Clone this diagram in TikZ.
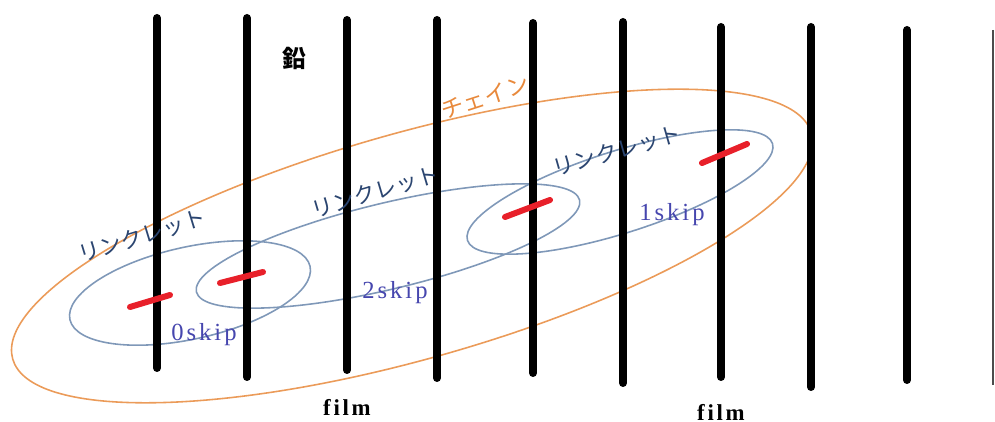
\documentclass[tikz,border=0pt]{standalone}
\usepackage{fontspec}
\usepackage{xcolor}
\usepackage{tikz}
\newfontfamily\jpfont{Noto Sans CJK JP}
\newfontfamily\skipfont[LetterSpace=12]{Liberation Serif}
\definecolor{chainorange}{HTML}{E8893C}
\definecolor{linkblue}{HTML}{7F98B8}
\definecolor{linktext}{HTML}{2B4570}
\definecolor{skiptext}{HTML}{4646AE}
\definecolor{hitred}{HTML}{E8202A}

\begin{document}
\begin{tikzpicture}[
  x=0.02cm, y=-0.02cm,
  filmline/.style={line width=0.16cm, line cap=round, black},
  hit/.style={line width=0.12cm, line cap=round, hitred},
  linklet/.style={draw=linkblue, line width=0.9pt},
  chain/.style={draw=chainorange!85, line width=0.9pt},
  linklbl/.style={font=\jpfont\fontsize{12.5pt}{14pt}\selectfont, text=linktext, inner sep=0pt},
  skiplbl/.style={font=\skipfont\fontsize{14pt}{16pt}\selectfont, text=skiptext, inner sep=0pt},
  filmlbl/.style={font=\skipfont\bfseries\fontsize{13pt}{15pt}\selectfont, inner sep=0pt}
]
\useasboundingbox (0,0) rectangle (995,422);
% chain
\draw[chain, rotate around={15.8:(412,246)}] (412,246) ellipse [x radius=415, y radius=113];
% linklets
\draw[linklet, rotate around={12.5:(190,293)}] (190,293) ellipse [x radius=123, y radius=46];
\draw[linklet, rotate around={13.5:(388,246)}] (388,246) ellipse [x radius=197, y radius=43];
\draw[linklet, rotate around={17.6:(620,192)}] (620,192) ellipse [x radius=160, y radius=41];
% films
\foreach \i/\x/\t/\b in {1/157/18/368, 2/247/18/377, 3/347/20/370, 4/437/20/378,
  5/533/23/373, 6/623/22/383, 7/721/27/377, 8/811/27/387, 9/907/30/380} {
  \coordinate (ft\i) at (\x,\t);
  \coordinate (fb\i) at (\x,\b);
  \draw[filmline] (ft\i) -- (fb\i);
}
\coordinate (ft10) at (993,30);
\coordinate (fb10) at (993,385);
\draw[line width=1.4pt, black!70] (ft10) -- (fb10);
% tracks
\draw[hit] (130,307) -- (170,295);
\draw[hit] (220,283) -- (263,272);
\draw[hit] (505,217) -- (550,200);
\draw[hit] (702,163) -- (747,144);
% labels
\node[font=\jpfont\bfseries\fontsize{13.5pt}{15pt}\selectfont, inner sep=0pt] (lead) at (294,58) {鉛};
\node[font=\jpfont\fontsize{13pt}{15pt}\selectfont, text=chainorange, inner sep=0pt, rotate=18] (chainlbl) at (485,97) {チェイン};
\node[linklbl, rotate=17] (link0) at (142,236) {リンクレット};
\node[linklbl, rotate=16.5] (link2) at (375,192) {リンクレット};
\node[linklbl, rotate=16] (link1) at (617,151) {リンクレット};
\node[skiplbl] (skip0) at (204,335) {0skip};
\node[skiplbl] (skip2) at (395,293) {2skip};
\node[skiplbl] (skip1) at (672,215) {1skip};
\node[filmlbl] (film1) at (347,407) {film};
\node[filmlbl] (film2) at (721,412) {film};
\end{tikzpicture}
\end{document}
